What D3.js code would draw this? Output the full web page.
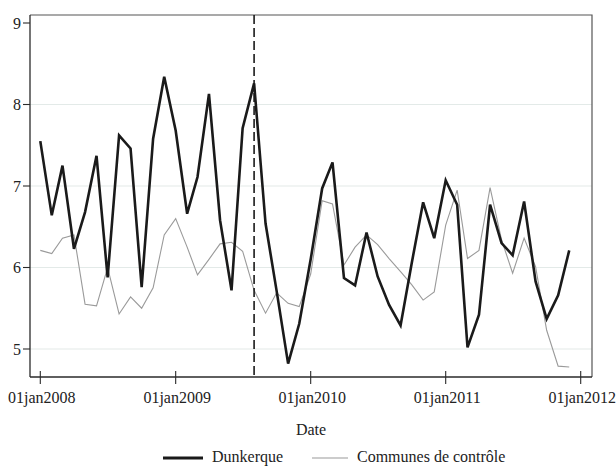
<!DOCTYPE html>
<html>
<head>
<meta charset="utf-8">
<script src="https://cdn.jsdelivr.net/npm/d3@7"></script>
<style>
  html, body { margin: 0; padding: 0; background: #fff; }
  svg { display: block; }
  svg text { font-family: "Liberation Serif", "DejaVu Serif", serif; }
</style>
</head>
<body>
<svg id="chart" width="616" height="466"></svg>
<script>
// Monthly series, January 2008 to December 2011
const dunkerque = [
  7.55, 6.64, 7.25, 6.23, 6.68, 7.37, 5.88, 7.62, 7.46, 5.76, 7.58, 8.34,
  7.68, 6.66, 7.11, 8.13, 6.58, 5.72, 7.71, 8.26, 6.54, 5.71, 4.82, 5.31,
  6.10, 6.97, 7.29, 5.87, 5.78, 6.43, 5.89, 5.54, 5.29, 6.05, 6.80, 6.36,
  7.07, 6.77, 5.02, 5.42, 6.77, 6.30, 6.15, 6.81, 5.83, 5.37, 5.66, 6.21
];
const controle = [
  6.21, 6.17, 6.36, 6.40, 5.55, 5.53, 6.00, 5.43, 5.64, 5.50, 5.75, 6.40,
  6.60, 6.25, 5.91, 6.10, 6.29, 6.31, 6.20, 5.72, 5.44, 5.69, 5.56, 5.52,
  5.92, 6.82, 6.78, 6.03, 6.25, 6.40, 6.28, 6.11, 5.95, 5.79, 5.60, 5.70,
  6.52, 6.95, 6.11, 6.21, 6.98, 6.34, 5.93, 6.36, 6.01, 5.23, 4.79, 4.78
];
const months = d3.timeMonth.range(new Date(2008, 0, 1), new Date(2012, 0, 1));
const xTickDates = [new Date(2008,0,1), new Date(2009,0,1), new Date(2010,0,1), new Date(2011,0,1), new Date(2012,0,1)];
const xTickLabels = ["01jan2008", "01jan2009", "01jan2010", "01jan2011", "01jan2012"];
const yTicks = [5, 6, 7, 8, 9];
const gridValues = [5, 6, 7, 8];
const eventDate = new Date(2009, 7, 1);
const seriesNames = ["Dunkerque", "Communes de contrôle"];

const FONT = "'Liberation Serif', 'DejaVu Serif', serif";
const svg = d3.select("#chart");
const frame = { left: 30, right: 592, top: 15, bottom: 377 };

const x = d3.scaleTime()
  .domain([new Date(2008, 0, 1), new Date(2012, 0, 1)])
  .range([40.3, 580.7]);
const y = d3.scaleLinear()
  .domain([5, 8])
  .range([349, 104.5]);

// gridlines
svg.append("g").selectAll("line").data(gridValues).join("line")
  .attr("x1", frame.left).attr("x2", frame.right)
  .attr("y1", d => y(d)).attr("y2", d => y(d))
  .attr("stroke", "#e3eae8").attr("stroke-width", 1.2);

// outer frame (top and right)
svg.append("path")
  .attr("d", `M${frame.left},${frame.top}H${frame.right}V${frame.bottom}`)
  .attr("fill", "none").attr("stroke", "#555").attr("stroke-width", 1.2);

// control communes and Dunkerque
const line = vals => d3.line()
  .x((d, i) => x(months[i]))
  .y(d => y(d))(vals);

svg.append("path")
  .attr("d", line(controle))
  .attr("fill", "none").attr("stroke", "#9a9a9a").attr("stroke-width", 1.1);

svg.append("path")
  .attr("d", line(dunkerque))
  .attr("fill", "none").attr("stroke", "#1a1a1a").attr("stroke-width", 2.6);

// event marker
svg.append("line")
  .attr("x1", x(eventDate)).attr("x2", x(eventDate))
  .attr("y1", frame.top).attr("y2", frame.bottom)
  .attr("stroke", "#1a1a1a").attr("stroke-width", 1.6)
  .attr("stroke-dasharray", "9,4");

// y axis
const yAxis = svg.append("g");
yAxis.append("line")
  .attr("x1", frame.left).attr("x2", frame.left)
  .attr("y1", frame.top).attr("y2", frame.bottom)
  .attr("stroke", "#2a2a2a").attr("stroke-width", 1.3);
yAxis.selectAll("line.tick").data(yTicks).join("line").attr("class", "tick")
  .attr("x1", 23).attr("x2", frame.left)
  .attr("y1", d => y(d)).attr("y2", d => y(d))
  .attr("stroke", "#2a2a2a").attr("stroke-width", 1.1);
yAxis.selectAll("text").data(yTicks).join("text")
  .attr("x", 21).attr("y", d => y(d) + 5.5)
  .attr("text-anchor", "end").attr("font-family", FONT).attr("font-size", 16).attr("fill", "#222")
  .text(d => d);

// x axis
const xAxis = svg.append("g");
xAxis.append("line")
  .attr("x1", frame.left).attr("x2", frame.right)
  .attr("y1", frame.bottom).attr("y2", frame.bottom)
  .attr("stroke", "#2a2a2a").attr("stroke-width", 1.3);
xAxis.selectAll("line.tick").data(xTickDates).join("line").attr("class", "tick")
  .attr("x1", d => x(d)).attr("x2", d => x(d))
  .attr("y1", 371).attr("y2", 384)
  .attr("stroke", "#2a2a2a").attr("stroke-width", 1.1);
xAxis.selectAll("text").data(xTickDates).join("text")
  .attr("x", d => x(d) + 1.5).attr("y", 402.5)
  .attr("text-anchor", "middle").attr("font-family", FONT).attr("font-size", 16).attr("fill", "#222")
  .text((d, i) => xTickLabels[i]);

svg.append("text")
  .attr("x", (frame.left + frame.right) / 2).attr("y", 435)
  .attr("text-anchor", "middle").attr("font-family", FONT).attr("font-size", 16).attr("fill", "#222")
  .text("Date");

// legend
const legend = svg.append("g");
legend.append("line").attr("x1", 163).attr("x2", 203).attr("y1", 458).attr("y2", 458)
  .attr("stroke", "#1a1a1a").attr("stroke-width", 3);
legend.append("text").attr("x", 212).attr("y", 462)
  .attr("font-family", FONT).attr("font-size", 16).attr("fill", "#222").text(seriesNames[0]);
legend.append("line").attr("x1", 312).attr("x2", 348).attr("y1", 458).attr("y2", 458)
  .attr("stroke", "#9a9a9a").attr("stroke-width", 1.2);
legend.append("text").attr("x", 357).attr("y", 462)
  .attr("font-family", FONT).attr("font-size", 16).attr("fill", "#222").text(seriesNames[1]);
</script>
</body>
</html>
